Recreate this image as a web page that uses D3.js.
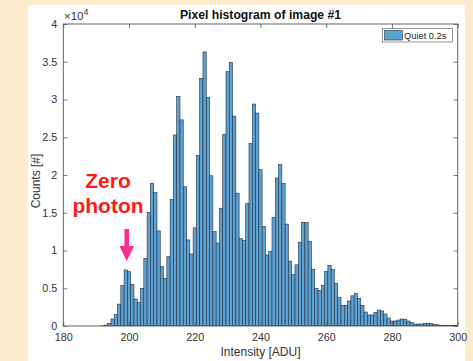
<!DOCTYPE html>
<html><head><meta charset="utf-8">
<script src="https://cdn.jsdelivr.net/npm/d3@7/dist/d3.min.js"></script>
<style>
html,body{margin:0;padding:0;background:#FDEBCD;}
svg{display:block;font-family:"Liberation Sans",Arial,Helvetica,sans-serif;}
</style>
</head><body>
<svg id="chart" width="473" height="361"></svg>
<script>
// ---- data ----
const binCenters = [192,193,194,195,196,197,198,199,200,201,202,203,204,205,206,207,208,209,210,
 211,212,213,214,215,216,217,218,219,220,221,222,223,224,225,226,227,228,229,230,
 231,232,233,234,235,236,237,238,239,240,241,242,243,244,245,246,247,248,249,250,
 251,252,253,254,255,256,257,258,259,260,261,262,263,264,265,266,267,268,269,270,
 271,272,273,274,275,276,277,278,279,280,281,282,283,284,285,286,287,288,289,290,
 291,292,293,294,295,296,297,298,299,300];
const counts = [30,120,350,930,1500,2900,5340,7420,7200,5500,3580,3130,4990,8960,15060,18900,17660,12600,7860,
 6310,9180,16780,25300,30400,27300,18450,11400,9540,13000,22600,32800,36300,30300,19900,12500,11000,15600,25400,33700,
 34900,27800,17600,11600,11300,16200,24200,29400,28200,20700,13200,9400,9900,14400,19600,21400,18900,13500,8600,6800,
 8100,11100,13700,13700,11200,7500,5000,4680,5390,7200,8040,7500,5650,3800,2740,2740,3310,4000,4330,3660,
 2740,1850,1460,1460,1810,2120,1990,1590,1060,660,660,790,930,880,660,440,260,260,260,350,
 350,300,200,150,100,100,80,50,80,80];
const xTicks = [180,200,220,240,260,280,300];
const yTicks = [0,5000,10000,15000,20000,25000,30000,35000,40000];
const yTickLabels = ["0","0.5","1","1.5","2","2.5","3","3.5","4"];
const titleText = "Pixel histogram of image #1";
const xLabel = "Intensity [ADU]";
const yLabel = "Counts [#]";
const legendLabel = "Quiet 0.2s";
const annotationLines = ["Zero","photon"];
const annotationBin = 199;

// ---- layout ----
const svg = d3.select("#chart");
const L = 63.3, R = 457.7, T = 24, B = 326;
const barFill = "rgb(94,162,212)";
const barStroke = "#223040";
const axisCol = "#555";
const textCol = "#333";

// white figure panel
svg.append("rect").attr("x",28).attr("y",5).attr("width",437).attr("height",356).attr("fill","#fff");

const x = d3.scaleLinear().domain([180,300]).range([L,R]);
const y = d3.scaleLinear().domain([0,40000]).range([B,T]);

svg.append("clipPath").attr("id","clip").append("rect")
  .attr("x",L).attr("y",T).attr("width",R-L).attr("height",B-T);

const data = binCenters.map((c,i)=>({c, v:counts[i]}));
svg.append("g").attr("clip-path","url(#clip)")
  .selectAll("rect").data(data).join("rect")
  .attr("x", d=>x(d.c-0.5))
  .attr("width", d=>x(d.c+0.5)-x(d.c-0.5))
  .attr("y", d=>y(d.v))
  .attr("height", d=>y(0)-y(d.v))
  .attr("fill", barFill)
  .attr("stroke", barStroke)
  .attr("stroke-width", 0.6);

// axes
const fmtY = v => yTickLabels[yTicks.indexOf(v)];
const gx = svg.append("g").attr("transform",`translate(0,${B})`)
  .call(d3.axisBottom(x).tickValues(xTicks).tickSize(-4).tickPadding(7).tickFormat(d3.format("d")));
const gxt = svg.append("g").attr("transform",`translate(0,${T})`)
  .call(d3.axisTop(x).tickValues(xTicks).tickSize(-4).tickFormat(""));
const gy = svg.append("g").attr("transform",`translate(${L},0)`)
  .call(d3.axisLeft(y).tickValues(yTicks).tickSize(-4).tickPadding(6).tickFormat(fmtY));
const gyr = svg.append("g").attr("transform",`translate(${R},0)`)
  .call(d3.axisRight(y).tickValues(yTicks).tickSize(-4).tickFormat(""));
[gx,gxt,gy,gyr].forEach(g=>{
  g.select(".domain").remove();
  g.selectAll(".tick line").attr("stroke",axisCol).attr("stroke-width",0.8);
  g.selectAll(".tick text").attr("fill",textCol).style("font-size","10.8px")
    .style("font-family","'Liberation Sans',Arial,sans-serif");
});
svg.append("rect").attr("x",L).attr("y",T).attr("width",R-L).attr("height",B-T)
  .attr("fill","none").attr("stroke",axisCol).attr("stroke-width",0.9);

// exponent
const ex = svg.append("text").attr("x",64).attr("y",20).attr("fill",textCol).style("font-size","11.5px");
ex.append("tspan").text("\u00d710");
ex.append("tspan").attr("dy",-5).style("font-size","9px").text("4");

// title
svg.append("text").attr("x",(L+R)/2).attr("y",18.5).attr("text-anchor","middle")
  .style("font-size","12.2px").style("font-weight","bold").attr("fill","#111").text(titleText);
// x label
svg.append("text").attr("x",(L+R)/2).attr("y",356).attr("text-anchor","middle")
  .style("font-size","12px").attr("fill",textCol).text(xLabel);
// y label
svg.append("text").attr("transform",`translate(40,${(T+B)/2+6}) rotate(-90)`).attr("text-anchor","middle")
  .style("font-size","12px").attr("fill",textCol).text(yLabel);

// legend
svg.append("rect").attr("x",382.5).attr("y",28.5).attr("width",70).attr("height",13.5)
  .attr("fill","#fff").attr("stroke","#666").attr("stroke-width",0.7);
svg.append("rect").attr("x",384.5).attr("y",30.5).attr("width",18).attr("height",9.5)
  .attr("fill",barFill).attr("stroke",barStroke).attr("stroke-width",0.6);
svg.append("text").attr("x",404).attr("y",38.8).style("font-size","9.3px").attr("fill","#222").text(legendLabel);

// annotation
const ax = x(annotationBin)+1;
svg.append("text").attr("x",108).attr("y",187.5).attr("text-anchor","middle")
  .style("font-size","21px").style("font-weight","bold").attr("fill","#FF1A1A").text(annotationLines[0]);
svg.append("text").attr("x",108).attr("y",213).attr("text-anchor","middle")
  .style("font-size","21px").style("font-weight","bold").attr("fill","#FF1A1A").text(annotationLines[1]);
const yTop = 229, yHead = 246, yTip = 261;
svg.append("path")
  .attr("d",`M${ax-2.3},${yTop} L${ax+2.3},${yTop} L${ax+2.3},${yHead} L${ax+7.3},${yHead} L${ax},${yTip} L${ax-7.3},${yHead} L${ax-2.3},${yHead} Z`)
  .attr("fill","#FF2E8E");
</script>
</body></html>
